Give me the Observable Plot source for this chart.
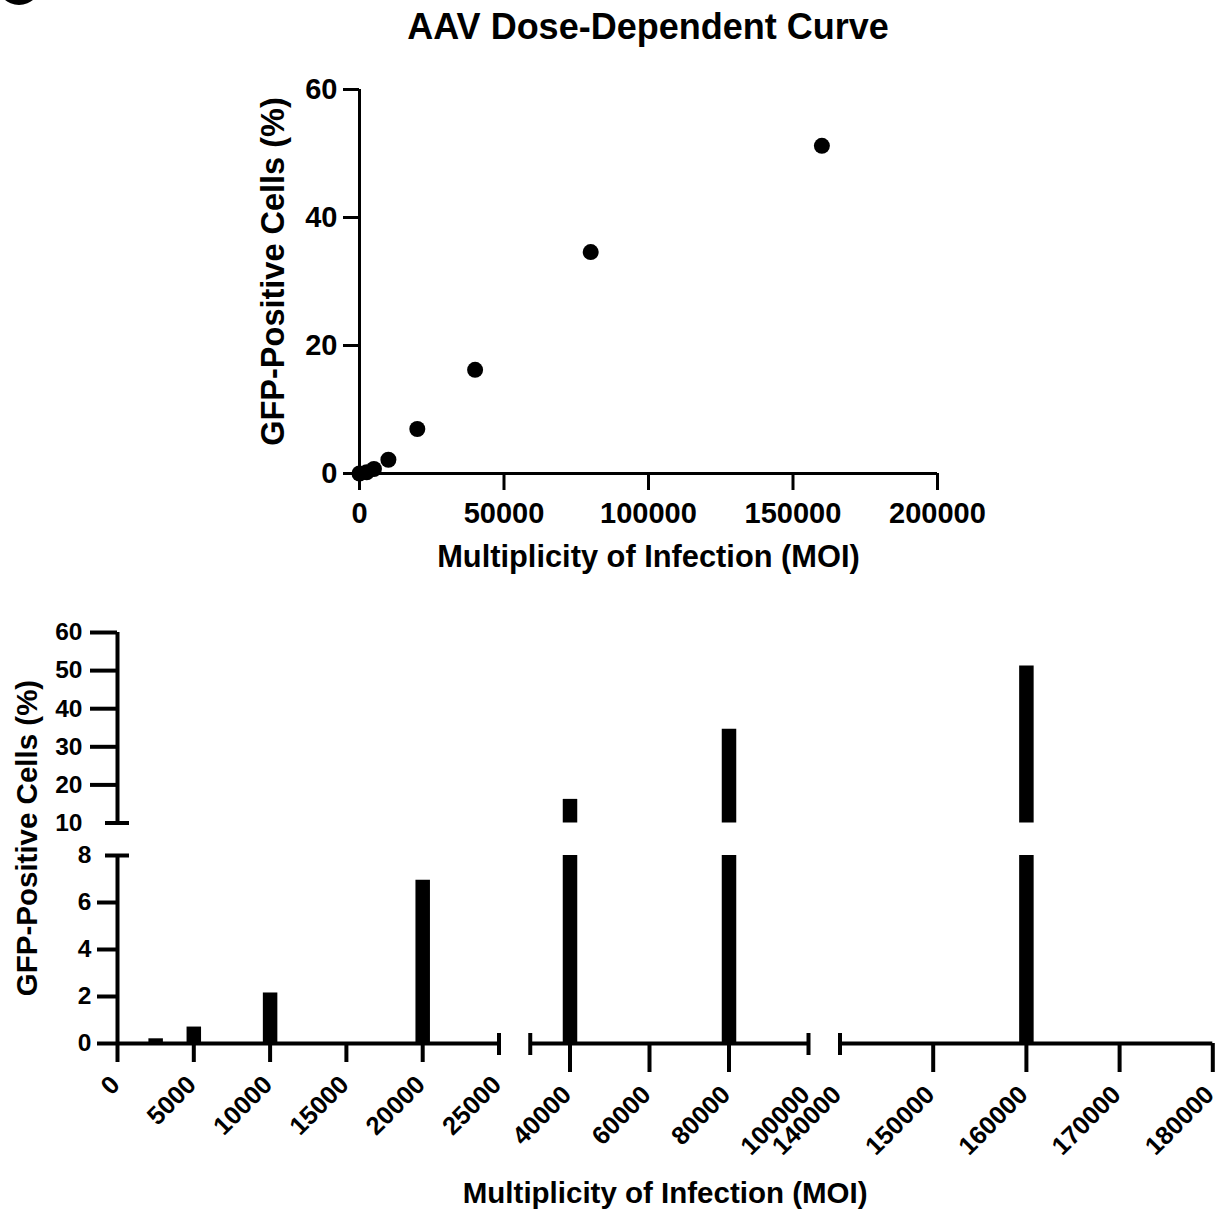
<!DOCTYPE html>
<html>
<head>
<meta charset="utf-8">
<title>AAV Dose-Dependent Curve</title>
<script src="https://cdn.jsdelivr.net/npm/d3@7"></script>
<script src="https://cdn.jsdelivr.net/npm/@observablehq/plot@0.6"></script>
<style>
  html, body { margin: 0; padding: 0; background: #fff; overflow: hidden; }
  #page {
    position: relative; width: 1222px; height: 1209px; overflow: hidden;
    font-family: "Liberation Sans", Arial, Helvetica, sans-serif; color: #000;
  }
  #badge {
    position: absolute; left: -3px; top: -39px; width: 44px; height: 44px;
    border-radius: 50%; background: #000;
  }
  #title {
    position: absolute; left: 648px; top: 6px; transform: translateX(-50%);
    font-size: 36px; line-height: 42px; font-weight: bold; white-space: nowrap;
  }
  .panel { position: absolute; left: 0; }
</style>
</head>
<body>
<div id="page">
  <div id="badge"></div>
  <div id="title">AAV Dose-Dependent Curve</div>
  <div id="dose" class="panel" style="top:55px"></div>
  <div id="bars" class="panel" style="top:600px"></div>
</div>
<script>
// Measured transduction: MOI vs. percentage of GFP-positive cells
const moi = [0, 2500, 5000, 10000, 20000, 40000, 80000, 160000];
const gfpPercent = [0, 0.2, 0.7, 2.15, 6.95, 16.2, 34.6, 51.2];

// Upper panel ticks
const doseXTicks = [0, 50000, 100000, 150000, 200000];
const doseYTicks = [0, 20, 40, 60];

// Lower panel: broken axes
const xSegments = [[0, 25000], [30000, 100000], [140000, 180000]];
const ySegments = [[0, 8], [10, 60]];
const xTicksShort = [0, 5000, 10000, 15000, 20000];
const xTicksLong = [40000, 60000, 80000, 150000, 160000, 170000, 180000];
const xBreakCaps = [25000, 30000, 100000, 140000];
const xLabelsFirst = [0, 5000, 10000, 15000, 20000, 25000];
const xLabelsRest = [40000, 60000, 80000, 100000, 140000, 150000, 160000, 170000, 180000];
const yTicksLow = [0, 2, 4, 6];
const yTicksHigh = [20, 30, 40, 50, 60];
const yBreakCaps = [8, 10];
const yLabelsLow = [0, 2, 4, 6, 8];
const yLabelsHigh = [10, 20, 30, 40, 50, 60];

const xTitle = "Multiplicity of Infection (MOI)";
const yTitle = "GFP-Positive Cells (%)";

const fontFamily = '"Liberation Sans", Arial, Helvetica, sans-serif';
const plain = d => String(d);
const zero = () => 0;
const self = d => d;

const points = moi.map((m, i) => ({moi: m, gfp: gfpPercent[i]}));

// Scatter of the dose response
const dose = Plot.plot({
  width: 1222,
  height: 545,
  marginLeft: 359,
  marginRight: 285,
  marginTop: 34,
  marginBottom: 127,
  style: {fontFamily, color: "black", background: "white", overflow: "visible"},
  x: {domain: [0, 200000]},
  y: {domain: [0, 60]},
  marks: [
    Plot.ruleX([0], {stroke: "black", strokeWidth: 3}),
    Plot.ruleY([0], {stroke: "black", strokeWidth: 3}),
    Plot.axisX({ticks: doseXTicks, tickFormat: plain, tickSize: 17, tickPadding: 12,
      stroke: "black", strokeWidth: 3, fontSize: 29, fontWeight: "bold", label: null}),
    Plot.axisY({ticks: doseYTicks, tickFormat: plain, tickSize: 16, tickPadding: 6,
      stroke: "black", strokeWidth: 3, fontSize: 29, fontWeight: "bold", label: null}),
    Plot.dot(points, {x: "moi", y: "gfp", r: 8, fill: "black"}),
    Plot.text([xTitle], {text: self, frameAnchor: "bottom", lineAnchor: "middle", dy: 84,
      fontSize: 30.8, fontWeight: "bold", fill: "black"}),
    Plot.text([yTitle], {text: self, frameAnchor: "left", textAnchor: "middle", lineAnchor: "middle",
      dx: -86, dy: -10, rotate: -90, fontSize: 32.5, fontWeight: "bold", fill: "black"})
  ]
});
document.getElementById("dose").append(dose);

// Broken axes: each segment keeps its own linear mapping, joined by short gaps.
// The scale transforms compress MOI and percentage into continuous screen units.
const xBreak = d3.scaleLinear().domain(xSegments.flat()).range([117, 498.5, 529.75, 808, 839.5, 1212.3]);
const yBreak = d3.scaleLinear().domain(ySegments.flat()).range([0, 188, 220.5, 411]);

const lowCap = ySegments[0][1];
const highStart = ySegments[1][0];
const lowerBars = points.filter(d => d.gfp > 0)
  .map(d => ({moi: d.moi, y1: 0, y2: Math.min(d.gfp, lowCap)}));
const upperBars = points.filter(d => d.gfp > highStart)
  .map(d => ({moi: d.moi, y1: highStart, y2: d.gfp}));

const tickText = {text: plain, fontWeight: "bold", fill: "black"};

const bars = Plot.plot({
  width: 1222,
  height: 609,
  marginLeft: 117,
  marginRight: 9.7,
  marginTop: 32,
  marginBottom: 166,
  style: {fontFamily, color: "black", background: "white", overflow: "visible"},
  x: {transform: xBreak, domain: [117, 1212.3], axis: null},
  y: {transform: yBreak, domain: [0, 411], axis: null},
  marks: [
    // bars
    Plot.ruleX(lowerBars, {x: "moi", y1: "y1", y2: "y2", stroke: "black", strokeWidth: 14.5}),
    Plot.ruleX(upperBars, {x: "moi", y1: "y1", y2: "y2", stroke: "black", strokeWidth: 14.5}),
    // axis lines, one per segment
    Plot.ruleY(xSegments, {y: zero, x1: d => d[0], x2: d => d[1], stroke: "black", strokeWidth: 4}),
    Plot.ruleX(ySegments, {x: zero, y1: d => d[0], y2: d => d[1], stroke: "black", strokeWidth: 4}),
    // tick marks and break caps
    Plot.ruleX(xTicksShort, {y1: zero, y2: zero, insetBottom: -19, stroke: "black", strokeWidth: 4}),
    Plot.ruleX(xTicksLong, {y1: zero, y2: zero, insetBottom: -29, stroke: "black", strokeWidth: 4}),
    Plot.ruleX(xBreakCaps, {y1: zero, y2: zero, insetTop: -10, insetBottom: -12, stroke: "black", strokeWidth: 4}),
    Plot.ruleY(yTicksHigh, {x1: zero, x2: zero, insetLeft: -27, stroke: "black", strokeWidth: 4}),
    Plot.ruleY(yTicksLow, {x1: zero, x2: zero, insetLeft: -20, stroke: "black", strokeWidth: 4}),
    Plot.ruleY(yBreakCaps, {x1: zero, x2: zero, insetLeft: -12, insetRight: -12, stroke: "black", strokeWidth: 4}),
    // tick labels
    Plot.text(yLabelsHigh, {...tickText, x: zero, y: self, textAnchor: "end", dx: -35, fontSize: 24.5}),
    Plot.text(yLabelsLow, {...tickText, x: zero, y: self, textAnchor: "end", dx: -26, fontSize: 24.5}),
    Plot.text(xLabelsFirst, {...tickText, x: self, y: zero, rotate: -45, textAnchor: "end",
      dx: -2, dy: 37, fontSize: 25.5}),
    Plot.text(xLabelsRest, {...tickText, x: self, y: zero, rotate: -45, textAnchor: "end",
      dx: -3, dy: 47, fontSize: 25.5}),
    // axis titles
    Plot.text([xTitle], {text: self, frameAnchor: "bottom", lineAnchor: "middle", dy: 150,
      fontSize: 29.5, fontWeight: "bold", fill: "black"}),
    Plot.text([yTitle], {text: self, frameAnchor: "left", textAnchor: "middle", lineAnchor: "middle",
      dx: -90, rotate: -90, fontSize: 29.5, fontWeight: "bold", fill: "black"})
  ]
});
document.getElementById("bars").append(bars);
</script>
</body>
</html>
